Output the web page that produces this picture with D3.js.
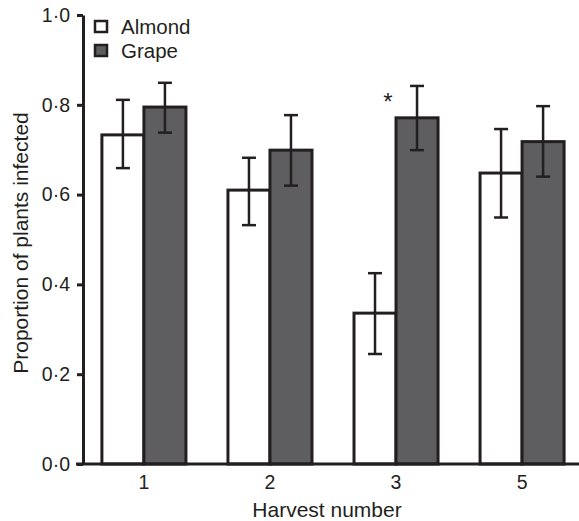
<!DOCTYPE html>
<meta charset="utf-8">
<body style="margin:0;background:#fff">
<style>
  text { font-family: "Liberation Sans", Arial, sans-serif; fill: #231f20; }
  .axis path, .axis line { stroke: #231f20; stroke-width: 3px; }
  .axis text { font-size: 19.5px; }
  .label { font-size: 21px; }
  .legend text { font-size: 20.5px; }
</style>
<svg width="579" height="521"></svg>
<script src="https://d3js.org/d3.v7.min.js"></script>
<script>

var harvests = ["1", "2", "3", "5"];
var series = ["Almond", "Grape"];
var almond    = [0.733, 0.610, 0.336, 0.648];
var almondLow = [0.659, 0.532, 0.245, 0.549];
var almondHi  = [0.811, 0.682, 0.425, 0.746];
var grape     = [0.795, 0.699, 0.771, 0.718];
var grapeLow  = [0.738, 0.620, 0.699, 0.640];
var grapeHi   = [0.849, 0.777, 0.842, 0.797];
var yTicks = [0, 0.2, 0.4, 0.6, 0.8, 1.0];
var starAt = "3";

var svg = d3.select("svg");
var ink = "#231f20",
    fills = {Almond: "#ffffff", Grape: "#5e5e60"};

var x0 = d3.scaleBand().domain(harvests).range([83, 583])
    .paddingInner(1/3).paddingOuter(0.15);
var x1 = d3.scaleBand().domain(series).range([0, x0.bandwidth()]);
var y = d3.scaleLinear().domain([0, 1]).range([464, 15]);

var rows = [];
harvests.forEach(function(h, i) {
  rows.push({h: h, s: "Almond", v: almond[i], lo: almondLow[i], hi: almondHi[i]});
  rows.push({h: h, s: "Grape", v: grape[i], lo: grapeLow[i], hi: grapeHi[i]});
});

// bars
svg.append("g").selectAll("rect")
    .data(rows)
    .enter().append("rect")
    .attr("x", function(d) { return x0(d.h) + x1(d.s); })
    .attr("y", function(d) { return y(d.v); })
    .attr("width", x1.bandwidth())
    .attr("height", function(d) { return y(0) - y(d.v); })
    .attr("fill", function(d) { return fills[d.s]; })
    .attr("stroke", ink)
    .attr("stroke-width", 3);

// error bars
var eb = svg.append("g").attr("stroke", ink).attr("stroke-width", 2.5);
rows.forEach(function(d) {
  var cx = x0(d.h) + x1(d.s) + x1.bandwidth() / 2;
  eb.append("line").attr("x1", cx).attr("x2", cx).attr("y1", y(d.lo)).attr("y2", y(d.hi));
  eb.append("line").attr("x1", cx - 7).attr("x2", cx + 7).attr("y1", y(d.lo)).attr("y2", y(d.lo));
  eb.append("line").attr("x1", cx - 7).attr("x2", cx + 7).attr("y1", y(d.hi)).attr("y2", y(d.hi));
});

// axes
var yAxis = svg.append("g").attr("class", "axis")
    .attr("transform", "translate(83,0)")
    .call(d3.axisLeft(y).tickValues(yTicks).tickSize(6).tickPadding(7).tickSizeOuter(0)
      .tickFormat(function(d) { return d3.format(".1f")(d).replace(".", "\u00b7"); }));

var xAxis = svg.append("g").attr("class", "axis")
    .attr("transform", "translate(0,464)")
    .call(d3.axisBottom(x0).tickSize(0).tickPadding(11).tickSizeOuter(0));
xAxis.select(".domain").attr("d", "M76,0H579");

svg.append("text").attr("class", "label")
    .attr("text-anchor", "middle")
    .attr("x", 327).attr("y", 517)
    .text("Harvest number");

svg.append("text").attr("class", "label")
    .attr("text-anchor", "middle")
    .attr("transform", "translate(28,243) rotate(-90)")
    .text("Proportion of plants infected");

// significance mark
svg.append("text")
    .attr("x", x0(starAt) + x0.bandwidth() / 2 - 8)
    .attr("y", y(0.817) + 13)
    .attr("text-anchor", "middle")
    .style("font-size", "24px")
    .text("*");

// legend
var leg = svg.append("g").attr("class", "legend");
series.forEach(function(s, i) {
  leg.append("rect")
      .attr("x", 95).attr("y", 21 + i * 24)
      .attr("width", 12).attr("height", 11)
      .attr("fill", fills[s]).attr("stroke", ink).attr("stroke-width", 2.5);
  leg.append("text")
      .attr("x", 121).attr("y", 34 + i * 24)
      .text(s);
});

</script>
</body>
